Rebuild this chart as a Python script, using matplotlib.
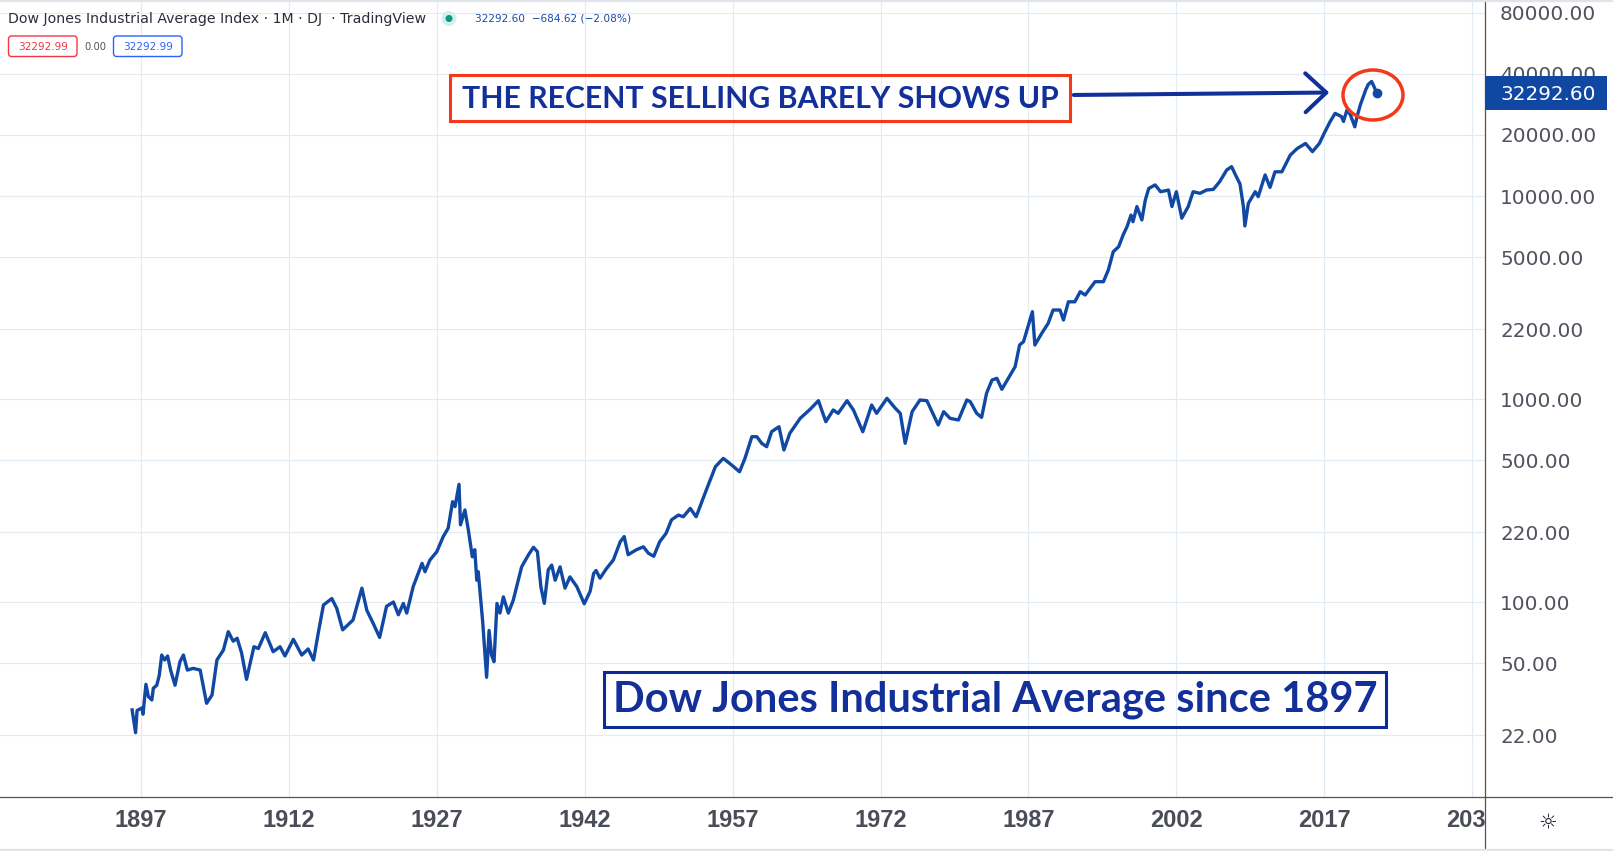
import matplotlib
matplotlib.use("Agg")
import matplotlib.pyplot as plt
from matplotlib.patches import Rectangle, Ellipse, FancyArrowPatch, Circle, FancyBboxPatch
from matplotlib.lines import Line2D
from matplotlib.ticker import NullLocator
from matplotlib.transforms import IdentityTransform

# monthly closes (year fraction, index level)
years = [1896.1, 1896.45, 1896.6, 1897.1, 1897.2, 1897.5, 1897.75, 1898.1, 1898.25, 1898.6,
         1898.85, 1899.1, 1899.4, 1899.7, 1900.0, 1900.45, 1900.95, 1901.3, 1901.7, 1902.3,
         1903.0, 1903.65, 1904.2, 1904.7, 1905.35, 1905.85, 1906.35, 1906.75, 1907.2, 1907.7,
         1908.45, 1908.9, 1909.6, 1910.4, 1911.1, 1911.6, 1912.45, 1913.3, 1913.95, 1914.5,
         1915.0, 1915.5, 1916.35, 1916.85, 1917.45, 1918.5, 1919.4, 1919.9, 1920.55, 1921.2,
         1921.9, 1922.6, 1923.1, 1923.6, 1923.95, 1924.6, 1925.5, 1925.8, 1926.3, 1927.0,
         1927.65, 1928.15, 1928.6, 1928.85, 1929.25, 1929.4, 1929.85, 1930.2, 1930.6, 1930.85,
         1931.05, 1931.2, 1931.65, 1932.05, 1932.3, 1932.55, 1932.8, 1933.1, 1933.4, 1933.75,
         1934.25, 1934.75, 1935.6, 1936.3, 1936.8, 1937.2, 1937.55, 1937.9, 1938.3, 1938.65,
         1939.0, 1939.5, 1940.0, 1940.5, 1941.2, 1941.95, 1942.55, 1942.9, 1943.15, 1943.55,
         1944.2, 1944.9, 1945.6, 1946.0, 1946.4, 1947.25, 1947.95, 1948.45, 1949.0, 1949.6,
         1950.25, 1950.8, 1951.5, 1952.0, 1952.7, 1953.3, 1954.2, 1954.8, 1955.25, 1956.05,
         1956.9, 1957.7, 1958.25, 1958.95, 1959.45, 1959.95, 1960.45, 1960.95, 1961.7, 1962.2,
         1962.8, 1963.85, 1964.85, 1965.7, 1966.45, 1967.2, 1967.7, 1968.6, 1969.25, 1970.2,
         1971.1, 1971.6, 1972.65, 1973.5, 1974.0, 1974.5, 1975.2, 1976.0, 1976.7, 1977.85,
         1978.4, 1979.05, 1979.9, 1980.75, 1981.1, 1981.75, 1982.25, 1982.75, 1983.3, 1983.8,
         1984.3, 1985.15, 1985.65, 1986.1, 1986.5, 1987.0, 1987.4, 1987.65, 1988.35, 1989.0,
         1989.5, 1990.2, 1990.55, 1991.05, 1991.7, 1992.25, 1992.75, 1993.75, 1994.6, 1995.1,
         1995.6, 1996.15, 1996.6, 1997.0, 1997.4, 1997.6, 1998.0, 1998.5, 1998.85, 1999.2,
         1999.85, 2000.4, 2001.2, 2001.55, 2002.0, 2002.55, 2003.2, 2003.7, 2004.4, 2005.05,
         2005.75, 2006.4, 2007.1, 2007.6, 2008.1, 2008.45, 2008.8, 2008.95, 2009.3, 2010.0,
         2010.3, 2011.0, 2011.5, 2012.0, 2012.7, 2013.55, 2014.25, 2015.1, 2015.8, 2016.5,
         2017.0, 2017.6, 2018.1, 2018.75, 2018.95, 2019.3, 2019.65, 2020.1, 2020.3, 2020.65,
         2021.2, 2021.45, 2021.8, 2022.05, 2022.3]
values = [29.4, 22.7, 29.2, 30.1, 28.0, 39.3, 34.2, 32.9, 37.6, 38.9,
          43.5, 54.8, 51.8, 54.2, 46.2, 38.9, 50.8, 54.8, 46.2, 47.1,
          46.2, 31.7, 34.8, 51.8, 57.9, 71.4, 64.1, 66.3, 56.1, 41.6,
          60.2, 59.0, 70.6, 56.9, 60.2, 54.2, 65.5, 54.8, 58.7, 51.8,
          71.4, 96.6, 104, 93.1, 72.9, 81.5, 117, 91.0, 78.4, 66.9,
          95.2, 100, 86.5, 98.4, 88.2, 119, 155, 141, 161, 177,
          210, 231, 312, 295, 380, 240, 284, 226, 167, 181,
          128, 141, 80, 42.6, 72.4, 54.8, 50.8, 98.4, 88.2, 106,
          88.2, 102, 149, 171, 186, 177, 119, 98.4, 144, 152,
          128, 149, 117, 133, 119, 98, 113, 138, 143, 131,
          146, 161, 198, 210, 171, 181, 187, 174, 168, 198,
          218, 254, 268, 263, 289, 263, 343, 407, 464, 510,
          473, 438, 510, 652, 652, 605, 582, 690, 730, 561,
          678, 803, 889, 981, 773, 883, 850, 981, 883, 690,
          934, 850, 1008, 900, 850, 605, 866, 989, 981, 745,
          866, 803, 788, 989, 970, 850, 812, 1067, 1240, 1264,
          1116, 1313, 1443, 1845, 1916, 2313, 2692, 1845, 2107, 2360,
          2744, 2744, 2450, 3012, 3012, 3378, 3253, 3783, 3783, 4321,
          5317, 5630, 6425, 7067, 8055, 7470, 8870, 7620, 9548, 10897,
          11339, 10497, 10700, 8870, 10497, 7777, 8870, 10497, 10306, 10700,
          10780, 11780, 13420, 13950, 12400, 11480, 8870, 7120, 9200, 10500,
          9930, 12700, 11030, 13160, 13160, 15900, 17130, 18150, 16540, 18150,
          20400, 23290, 25530, 24600, 23300, 26530, 25090, 21920, 24345, 28050,
          33300, 35400, 36660, 34540, 32292.60]

x_ticks = [1897, 1912, 1927, 1942, 1957, 1972, 1987, 2002, 2017, 2032]
y_ticks = [22, 50, 100, 220, 500, 1000, 2200, 5000, 10000, 20000, 40000, 80000]
last_price = 32292.60
change = -684.62
change_pct = -2.08
ohlc_box = 32292.99

LINE = "#1048a3"
NAVY = "#13309a"
RED = "#f4381a"
GRID = "#e1ebf3"
AXIS_TXT = "#50535e"

W, H = 1613, 851
fig = plt.figure(figsize=(W / 100, H / 100), dpi=100)
fig.patch.set_facecolor("white")


def fx(px):
    return px / W


def fy(py):
    return 1 - py / H


ax = fig.add_axes([0, fy(797), fx(1485), 797 / H])
ax.set_yscale("log")
ax.set_xlim(1882.7, 2033.3)
ax.set_ylim(10.95, 92370)

ax.plot(years, values, color=LINE, lw=2.4, solid_joinstyle="round", zorder=3)
ax.plot(years[-1], values[-1], "o", color=LINE, ms=6, zorder=4)

ax.set_xticks(x_ticks)
ax.set_xticklabels([str(y) for y in x_ticks], fontfamily="Liberation Sans",
                   fontweight="bold", fontsize=17, color="#4a4d57")
ax.yaxis.tick_right()
ax.set_yticks(y_ticks)
ax.set_yticklabels([f"{v:.2f}" for v in y_ticks], fontfamily="DejaVu Sans",
                   fontsize=14.4, color=AXIS_TXT)
ax.yaxis.set_minor_locator(NullLocator())
ax.tick_params(axis="x", length=0, pad=8.3)
ax.tick_params(axis="y", length=0, pad=10.8)
ax.grid(True, color=GRID, lw=0.8)
for s in ax.spines.values():
    s.set_visible(False)


# annotation helpers in axes pixel space
def afx(px):
    return px / 1485


def afy(py):
    return 1 - py / 797


ax.add_patch(Rectangle((afx(450), afy(121)), afx(1070) - afx(450), afy(75) - afy(121),
                       transform=ax.transAxes, fill=False, ec=RED, lw=2.2, zorder=6))
ax.text(afx(760), afy(98.5), "THE RECENT SELLING BARELY SHOWS UP", transform=ax.transAxes,
        ha="center", va="center", fontfamily="Lato", fontweight="bold", fontsize=21.8,
        color=NAVY, zorder=6)

arrow = FancyArrowPatch((afx(1071), afy(95)), (afx(1332), afy(92.5)),
                        transform=ax.transAxes, arrowstyle="->,head_length=0.75,head_width=0.7",
                        mutation_scale=20, color=NAVY, lw=2.9, zorder=6)
ax.add_patch(arrow)

ax.add_patch(Ellipse((afx(1373), afy(95)), afx(60), 50 / 797, transform=ax.transAxes,
                     fill=False, ec=RED, lw=2.5, zorder=6))

ax.add_patch(Rectangle((afx(604), afy(727)), afx(1386) - afx(604), afy(672) - afy(727),
                       transform=ax.transAxes, fill=False, ec="#0d2b94", lw=2.2, zorder=6))
ax.text(afx(995), afy(700), "Dow Jones Industrial Average since 1897", transform=ax.transAxes,
        ha="center", va="center", fontfamily="Lato", fontweight="bold", fontsize=30,
        color=NAVY, zorder=6)

# right price scale panel / frame
fig.add_artist(Rectangle((fx(1486), 0), 1 - fx(1486), fy(797.5), facecolor="white",
                         edgecolor="none", zorder=5))
fig.add_artist(Line2D([fx(1485), fx(1485)], [0, 1], color="#50535e", lw=0.9, zorder=6))
fig.add_artist(Line2D([0, 1], [fy(797), fy(797)], color="#50535e", lw=0.9, zorder=6))
fig.add_artist(Line2D([0, 1], [fy(1), fy(1)], color="#e0e3eb", lw=1.6, zorder=6))
fig.add_artist(Line2D([0, 1], [fy(849.5), fy(849.5)], color="#e0e3eb", lw=1.6, zorder=6))
fig.text(fx(1548), fy(822), "\u263c", ha="center", va="center", fontsize=15,
         color="#131722", zorder=7)

# last price tag
fig.canvas.draw()
y_disp = ax.transData.transform((years[-1], last_price))[1]
fig.add_artist(Rectangle((1485, y_disp - 17), 122, 34, transform=IdentityTransform(),
                         facecolor="#0f47a3", edgecolor="none", zorder=8))
fig.text(fx(1500), y_disp / H, f"{last_price:.2f}", ha="left", va="center_baseline",
         fontsize=14.4, color="white", zorder=9)

# header legend
fig.text(fx(8), fy(18.5), "Dow Jones Industrial Average Index \u00b7 1M \u00b7 DJ  \u00b7 TradingView",
         ha="left", va="center", fontsize=10.2, color="#2a2e39")
fig.add_artist(Circle((449, H - 18.5), 7.5, transform=IdentityTransform(),
                      facecolor="#d3efe9", edgecolor="none", zorder=4))
fig.add_artist(Circle((449, H - 18.5), 3.5, transform=IdentityTransform(),
                      facecolor="#089981", edgecolor="none", zorder=5))
fig.text(fx(475), fy(18.5),
         f"{last_price:.2f}  \u2212{abs(change):.2f} (\u2212{abs(change_pct):.2f}%)",
         ha="left", va="center", fontsize=7.6, color="#1a4aa6")

for x0, col in [(8.5, "#f23645"), (113.5, "#2962ff")]:
    fig.add_artist(FancyBboxPatch((x0, H - 56.5), 68.5, 20.5, boxstyle="round,pad=0,rounding_size=3",
                                  transform=IdentityTransform(), facecolor="white",
                                  edgecolor=col, lw=1.0, zorder=5))
    fig.text(fx(x0 + 34.2), fy(46.5), f"{ohlc_box:.2f}", ha="center", va="center",
             fontsize=7.6, color=col, zorder=6)
fig.text(fx(95), fy(46.5), "0.00", ha="center", va="center", fontsize=7.2, color="#50535e")

fig.savefig("out.png", dpi=100, facecolor="white")
